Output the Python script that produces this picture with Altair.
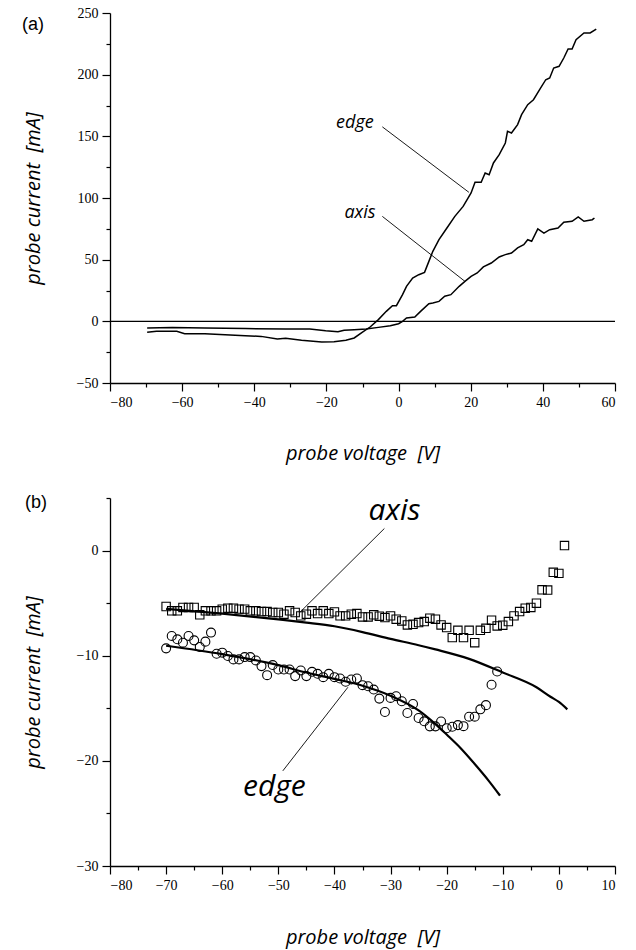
import altair as alt
import pandas as pd

# ---------------- panel (a) data ----------------
edge_a_v = [-69.7,-67.1,-61.5,-59.3,-53.7,-48.1,-42.5,-38.1,-33.6,-31.3,-26.9,-21.3,-17.9,-14.6,-12.3,-10.1,-7.9,-5.6,-3.4,-1.7,-0.6,1.1,2.2,3.9,5.6,7.2,8.4,9.5,11.2,13.4,15.6,17.9,20.1,21.2,22.9,24.0,25.1,26.3,27.9,29.6,30.2,31.3,33.0,34.1,35.8,37.4,39.1,40.8,41.9,43.0,44.5,45.8,47.0,48.1,49.2,51.4,53.1,54.8]
edge_a_i = [-8.9,-8.1,-8.1,-10.0,-10.0,-10.8,-11.6,-12.2,-14.3,-13.8,-15.4,-16.8,-16.5,-15.4,-13.5,-8.9,-4.6,1.4,8.1,12.7,12.7,21.6,28.4,35.1,37.8,39.7,48.6,56.8,66.2,75.7,85.1,93.2,104.1,112.7,112.7,120.3,118.9,128.4,135.1,144.6,154.1,152.7,159.5,167.6,175.7,179.7,187.8,195.9,197.3,205.4,206.8,213.5,220.8,220.8,228.4,233.8,233.8,237.0]
axis_a_v = [-69.7,-62.7,-53.7,-42.5,-31.3,-24.6,-20.2,-16.8,-15.1,-12.3,-9.0,-5.6,-2.3,0.0,1.1,2.2,4.5,6.1,8.4,9.5,11.2,12.8,14.5,16.8,18.4,20.1,21.8,23.5,25.7,27.9,29.6,31.3,33.0,34.7,35.8,36.9,38.6,40.3,41.9,44.2,45.8,48.1,49.8,51.4,53.7,54.3]
axis_a_i = [-5.4,-4.9,-5.4,-5.9,-6.2,-6.2,-7.6,-8.4,-7.3,-6.8,-6.2,-4.9,-3.5,-1.9,0.0,2.7,3.5,8.1,14.3,14.9,16.2,20.3,21.6,28.4,32.4,36.5,39.2,44.1,47.3,52.2,54.1,55.4,59.5,62.2,66.2,64.9,74.9,71.6,74.3,75.7,80.3,81.1,84.6,81.1,82.4,83.8]

labels_a = ["edge", "axis"]
labels_a_v = [-12.1, -10.7]
labels_a_i = [156.5, 83.8]
leader_a_v = [-4.5, 19.5, -4.5, 18.4]
leader_a_i = [157.7, 104.6, 85.1, 32.4]

# ---------------- panel (b) data ----------------
sq_v = list(range(-70, 2))
sq_i = [-5.32,-5.73,-5.73,-5.41,-5.41,-5.41,-6.11,-5.73,-5.73,-5.73,
        -5.57,-5.48,-5.48,-5.57,-5.57,-5.73,-5.73,-5.80,-5.80,-5.89,
        -5.89,-6.05,-5.73,-5.89,-6.21,-6.05,-5.73,-5.99,-5.73,-5.99,
        -5.83,-6.21,-6.21,-6.05,-5.99,-6.31,-6.31,-6.11,-6.24,-6.37,
        -6.21,-6.53,-6.69,-7.07,-7.01,-6.85,-6.75,-6.43,-6.53,-7.07,
        -7.32,-8.28,-7.58,-8.28,-7.58,-8.76,-7.58,-7.39,-6.62,-7.17,
        -7.10,-6.75,-6.21,-5.80,-5.48,-5.41,-5.00,-3.73,-3.76,-2.07,-2.17,0.48]
ci_v = list(range(-70, -10))
ci_i = [-9.30,-8.12,-8.44,-8.76,-8.12,-8.54,-9.17,-8.66,-7.80,-9.81,
        -9.71,-10.03,-10.35,-10.35,-10.13,-10.13,-10.45,-10.99,-11.85,-10.89,
        -11.31,-11.31,-11.31,-11.94,-11.40,-11.94,-11.53,-11.72,-12.04,-11.72,
        -12.04,-12.17,-12.48,-12.26,-12.17,-12.80,-12.90,-13.22,-14.08,-15.35,
        -14.01,-13.85,-14.33,-15.45,-14.59,-15.92,-16.24,-16.72,-16.72,
        -16.25,-16.9,-16.76,-16.6,-16.7,-15.8,-15.8,-15.1,-14.7,-12.76,-11.5]
fit_axis_v = [-70,-60,-50,-45,-40,-35,-30,-25,-22,-16,-10,-4,-1.5,0,1.5]
fit_axis_i = [-5.55,-6.0,-6.55,-6.85,-7.2,-7.75,-8.4,-9.0,-9.4,-10.3,-11.6,-13.0,-13.9,-14.4,-15.1]
fit_edge_v = [-70,-60,-50,-45,-40,-35,-30,-25,-22,-20,-17.5,-15,-12.5,-10.5]
fit_edge_i = [-9.05,-9.85,-10.9,-11.6,-12.2,-12.85,-13.8,-15.2,-16.5,-17.5,-18.8,-20.3,-21.9,-23.3]

labels_b = ["axis", "edge"]
labels_b_v = [-29.3, -50.7]
labels_b_i = [2.9, -23.3]
leader_b_v = [-31.1, -46.2, -37.6, -49.2]
leader_b_i = [2.1, -5.9, -13.0, -20.95]

X_TITLE = "probe voltage \u00a0[V]"
Y_TITLE = "probe current \u00a0[mA]"
TFONT = "Open Sans"
W = 505


def ticksize(step):
    return {"condition": {"test": f"datum.value % {step} === 0", "value": 8}, "value": 4}


def lbl(step):
    return f"datum.value % {step} === 0 ? datum.label : ''"


def axes(xdom, xstep, xmaj, ydom, ystep, ymaj, xtitle_y):
    xa = alt.Axis(values=list(range(xdom[0], xdom[1] + 1, xstep)), labelExpr=lbl(xmaj),
                  tickSize=ticksize(xmaj), title=X_TITLE, titleY=xtitle_y,
                  titleBaseline="alphabetic")
    ya = alt.Axis(values=list(range(ydom[0], ydom[1] + 1, ystep)), labelExpr=lbl(ymaj),
                  tickSize=ticksize(ymaj), title=Y_TITLE, titleX=-77,
                  titleBaseline="middle")
    x = alt.X("v:Q", scale=alt.Scale(domain=xdom, nice=False, zero=False), axis=xa)
    y = alt.Y("i:Q", scale=alt.Scale(domain=ydom, nice=False, zero=False), axis=ya)
    return x, y


# ---------------- panel (a) ----------------
xa, ya = axes([-80, 60], 10, 20, [-50, 250], 25, 50, 76)
curves_a = pd.DataFrame({
    "v": edge_a_v + axis_a_v,
    "i": edge_a_i + axis_a_i,
    "s": ["edge"] * len(edge_a_v) + ["axis"] * len(axis_a_v),
})
lines_a = alt.Chart(curves_a).mark_line(color="black", strokeWidth=1.5).encode(
    x=xa, y=ya, detail="s:N")
zero_a = alt.Chart(pd.DataFrame({"i": [0]})).mark_rule(color="black", strokeWidth=1.2).encode(y=ya)
lead_a = alt.Chart(pd.DataFrame({"v": leader_a_v, "i": leader_a_i, "k": [0, 0, 1, 1]})).mark_line(
    color="black", strokeWidth=0.9).encode(x=xa, y=ya, detail="k:N")
text_a = alt.Chart(pd.DataFrame({"v": labels_a_v, "i": labels_a_i, "t": labels_a})).mark_text(
    font=TFONT, fontStyle="italic", fontSize=18, align="center", baseline="alphabetic",
    color="black").encode(x=xa, y=ya, text="t:N")
tag_a = alt.Chart(pd.DataFrame({"t": ["(a)"]})).mark_text(
    font="Liberation Sans", fontSize=18, align="left", baseline="middle", color="black").encode(
    x=alt.value(-88), y=alt.value(12), text="t:N")
panel_a = alt.layer(zero_a, lines_a, lead_a, text_a, tag_a).properties(width=W, height=370)

# ---------------- panel (b) ----------------
xb, yb = axes([-80, 10], 5, 10, [-30, 5], 5, 10, 77)
sq = alt.Chart(pd.DataFrame({"v": sq_v, "i": sq_i})).mark_point(
    shape="square", size=70, filled=False, color="black", strokeWidth=1.1, opacity=1).encode(x=xb, y=yb)
ci = alt.Chart(pd.DataFrame({"v": ci_v, "i": ci_i})).mark_point(
    shape="circle", size=80, filled=False, color="black", strokeWidth=1.1, opacity=1).encode(x=xb, y=yb)
fits = pd.DataFrame({
    "v": fit_axis_v + fit_edge_v,
    "i": fit_axis_i + fit_edge_i,
    "s": ["axis"] * len(fit_axis_v) + ["edge"] * len(fit_edge_v),
})
fit_b = alt.Chart(fits).mark_line(color="black", strokeWidth=2.2, interpolate="monotone").encode(
    x=xb, y=yb, detail="s:N")
lead_b = alt.Chart(pd.DataFrame({"v": leader_b_v, "i": leader_b_i, "k": [0, 0, 1, 1]})).mark_line(
    color="black", strokeWidth=0.9).encode(x=xb, y=yb, detail="k:N")
text_b = alt.Chart(pd.DataFrame({"v": labels_b_v, "i": labels_b_i, "t": labels_b})).mark_text(
    font=TFONT, fontStyle="italic", fontSize=30, align="center", baseline="alphabetic",
    color="black").encode(x=xb, y=yb, text="t:N")
tag_b = alt.Chart(pd.DataFrame({"t": ["(b)"]})).mark_text(
    font="Liberation Sans", fontSize=18, align="left", baseline="middle", color="black").encode(
    x=alt.value(-85), y=alt.value(5), text="t:N")
panel_b = alt.layer(fit_b, sq, ci, lead_b, text_b, tag_b).properties(width=W, height=368)

chart = alt.vconcat(panel_a, panel_b, spacing=31).properties(
    padding={"left": 22, "top": 6, "right": 5, "bottom": 5},
    background="white",
).configure_view(stroke=None).configure_axis(
    grid=False, domainColor="black", domainWidth=1.3, tickColor="black", tickWidth=1.2,
    labelColor="black", labelFont="Liberation Serif", labelFontSize=14, labelPadding=4,
    titleColor="black", titleFont=TFONT, titleFontStyle="italic", titleFontWeight="normal",
    titleFontSize=20,
)

chart.save("out.html", embed_options={"renderer": "svg", "actions": False})
